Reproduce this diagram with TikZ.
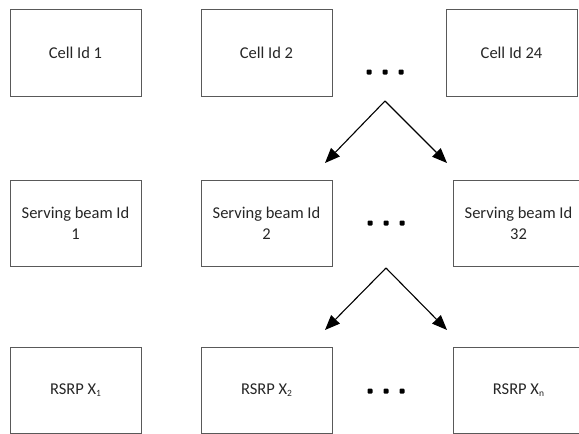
\documentclass[tikz,border=0pt]{standalone}
\usepackage{fontspec}
\setmainfont{Carlito}
\usetikzlibrary{arrows.meta}
\newcommand{\mysub}[1]{\raisebox{-0.3ex}{\fontsize{9.5}{9.5}\selectfont #1}}
\begin{document}
\begin{tikzpicture}[x=1pt,y=-1pt,
  cellbox/.style={draw=black!65, line width=0.9pt, minimum width=131pt, minimum height=87pt,
    inner sep=0pt, align=center, font=\fontsize{16.5}{21}\selectfont, text=black!85},
  conn/.style={line width=1.1pt, -{Triangle[length=15pt,width=12pt]}},
  dot/.style={rounded corners=1pt, fill=black, inner sep=0pt, minimum size=5pt}]
\useasboundingbox (0,0) rectangle (579,434);
\clip (0,0) rectangle (579,434);
% row 1
\node[cellbox] (c1) at (75.5,53) {Cell Id 1};
\node[cellbox] (c2) at (266.5,53) {Cell Id 2};
\node[cellbox] (c3) at (511.5,53) {Cell Id 24};
\node[dot] (d1a) at (369,72) {};
\node[dot] (d1b) at (385,72) {};
\node[dot] (d1c) at (401,72) {};
% row 2
\node[cellbox, minimum height=86pt] (s1) at (75.5,223) {Serving beam Id\\1};
\node[cellbox, minimum height=86pt] (s2) at (266.5,223) {Serving beam Id\\2};
\node[cellbox, minimum height=86pt] (s3) at (518.5,223) {Serving beam Id\\32};
\node[dot] (d2a) at (370,223) {};
\node[dot] (d2b) at (386,223) {};
\node[dot] (d2c) at (402,223) {};
% row 3
\node[cellbox, minimum height=86pt] (r1) at (75.5,390) {RSRP X\mysub{1}};
\node[cellbox, minimum height=86pt] (r2) at (266.5,390) {RSRP X\mysub{2}};
\node[cellbox, minimum height=86pt] (r3) at (518.5,390) {RSRP X\mysub{n}};
\node[dot] (d3a) at (370,391) {};
\node[dot] (d3b) at (386,391) {};
\node[dot] (d3c) at (402,391) {};
% arrows
\coordinate (a1) at (385,101);
\coordinate (t1l) at (325,163);
\coordinate (t1r) at (447,163);
\draw[conn] (a1) -- (t1l);
\draw[conn] (a1) -- (t1r);
\coordinate (a2) at (386,268);
\coordinate (t2l) at (325,330);
\coordinate (t2r) at (447,330);
\draw[conn] (a2) -- (t2l);
\draw[conn] (a2) -- (t2r);
\end{tikzpicture}
\end{document}
